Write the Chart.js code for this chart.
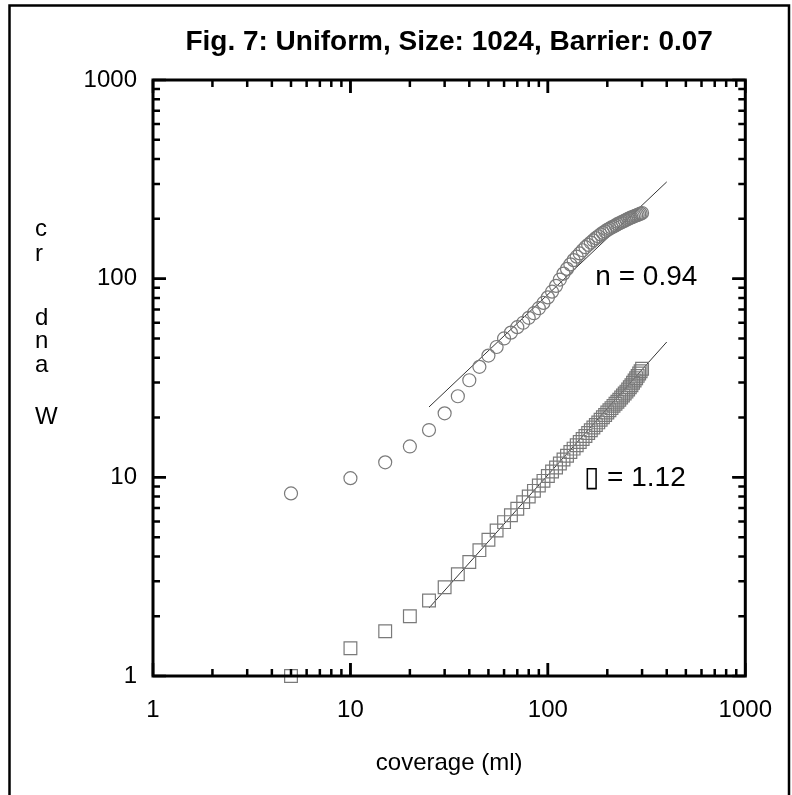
<!DOCTYPE html>
<html>
<head>
<meta charset="utf-8">
<script src="https://cdn.jsdelivr.net/npm/chart.js@4"></script>
<style>
  html, body { margin: 0; padding: 0; background: #fff; }
  #wrap { width: 792px; height: 795px; position: relative; }
</style>
</head>
<body>
<div id="wrap"><canvas id="chart" width="792" height="795"></canvas></div>
<script>
// coverage values (ml)
const coverage = [
  5, 10, 15, 20, 25, 30, 35, 40, 45, 50,
  55, 60, 65, 70, 75, 80, 85, 90, 95, 100,
  105, 110, 115, 120, 125, 130, 135, 140, 145, 150,
  155, 160, 165, 170, 175, 180, 185, 190, 195, 200,
  205, 210, 215, 220, 225, 230, 235, 240, 245, 250,
  255, 260, 265, 270, 275, 280, 285, 290, 295, 300
];

// circles (upper series)
const circleValues = [
  8.3, 9.9, 11.9, 14.3, 17.3, 21.0, 25.6, 30.8, 36.0, 41.0,
  45.3, 50.0, 53.5, 57.0, 60.0, 63.5, 67.0, 71.0, 75.5, 80.5,
  86.0, 92.0, 99.0, 106.0, 112.0, 118.0, 124.0, 129.0, 134.0, 139.0,
  144.0, 148.0, 152.0, 156.0, 160.0, 163.5, 167.0, 170.0, 173.0, 176.0,
  178.5, 181.0, 183.0, 185.5, 188.0, 190.0, 192.0, 194.0, 196.0, 198.0,
  200.0, 202.0, 203.5, 205.0, 206.5, 208.0, 209.5, 211.0, 212.5, 214.0
];

// squares (lower series)
const squareValues = [
  1.0, 1.38, 1.68, 2.0, 2.4, 2.8, 3.25, 3.75, 4.3, 4.85,
  5.4, 5.95, 6.45, 6.95, 7.5, 8.0, 8.55, 9.1, 9.6, 10.15,
  10.7, 11.2, 11.75, 12.3, 12.85, 13.4, 13.95, 14.5, 15.05, 15.6,
  16.15, 16.7, 17.25, 17.8, 18.35, 18.9, 19.5, 20.05, 20.6, 21.2,
  21.75, 22.3, 22.9, 23.45, 24.0, 24.6, 25.2, 25.8, 26.4, 27.0,
  27.7, 28.4, 29.1, 29.9, 30.7, 31.5, 32.4, 33.3, 34.2, 35.2
];

// power-law fit lines (end points)
const circleFitX = [25, 400];
const circleFitY = [22.6, 307];
const squareFitX = [25, 400];
const squareFitY = [2.2, 48];

const tickValues = [1, 10, 100, 1000];

const titleText = 'Fig. 7: Uniform, Size: 1024, Barrier: 0.07';
const xTitle = 'coverage (ml)';
const yTitleLetters = ['c', 'r', 'd', 'n', 'a', 'W'];
const yTitleBase = [236, 261, 325, 348, 372, 424];
const circleLabel = { text: 'n = 0.94', x: 174, y: 102 };
const squareLabel = { text: '\u25AF = 1.12', x: 153, y: 9.9 };

const FONT = '"Liberation Sans", Arial, sans-serif';

const toPoints = (xs, ys) => xs.map((x, i) => ({ x: x, y: ys[i] }));

// 边框、内向刻度和文字
const decorPlugin = {
  id: 'decor',
  afterDraw(chart) {
    const ctx = chart.ctx;
    const area = chart.chartArea;
    const xs = chart.scales.x;
    const ys = chart.scales.y;
    ctx.save();

    // outer frame
    ctx.strokeStyle = '#000';
    ctx.lineWidth = 2.5;
    ctx.beginPath();
    ctx.moveTo(9.5, 800);
    ctx.lineTo(9.5, 5.5);
    ctx.lineTo(789, 5.5);
    ctx.lineTo(789, 800);
    ctx.stroke();

    // plot box
    ctx.lineWidth = 3;
    ctx.strokeRect(area.left, area.top, area.right - area.left, area.bottom - area.top);

    // inward ticks on all four sides
    ctx.lineWidth = 2.5;
    [1, 10, 100].forEach(d => {
      for (let m = 1; m <= 10; m++) {
        const v = d * m;
        const len = (m === 1 || m === 10) ? 13 : 7;
        const px = xs.getPixelForValue(v);
        const py = ys.getPixelForValue(v);
        ctx.beginPath();
        ctx.moveTo(px, area.bottom); ctx.lineTo(px, area.bottom - len);
        ctx.moveTo(px, area.top); ctx.lineTo(px, area.top + len);
        ctx.moveTo(area.left, py); ctx.lineTo(area.left + len, py);
        ctx.moveTo(area.right, py); ctx.lineTo(area.right - len, py);
        ctx.stroke();
      }
    });

    ctx.fillStyle = '#000';
    // title
    ctx.font = 'bold 28px ' + FONT;
    ctx.textAlign = 'center';
    ctx.textBaseline = 'middle';
    ctx.fillText(titleText, (area.left + area.right) / 2, 42);

    // x title
    ctx.font = '24px ' + FONT;
    ctx.fillText(xTitle, (area.left + area.right) / 2, 763);

    // y title (stacked letters)
    ctx.textAlign = 'left';
    ctx.textBaseline = 'alphabetic';
    yTitleLetters.forEach((ch, i) => ctx.fillText(ch, 35, yTitleBase[i]));

    // fit labels
    ctx.font = '28px ' + FONT;
    ctx.textBaseline = 'middle';
    [circleLabel, squareLabel].forEach(l => {
      ctx.fillText(l.text, xs.getPixelForValue(l.x), ys.getPixelForValue(l.y));
    });

    ctx.restore();
  }
};

const tickOpts = {
  autoSkip: false,
  maxRotation: 0,
  color: '#000',
  font: { family: FONT, size: 24 },
  callback: v => String(v)
};

new Chart(document.getElementById('chart'), {
  type: 'scatter',
  data: {
    datasets: [
      {
        label: 'circles',
        data: toPoints(coverage, circleValues),
        pointStyle: 'circle',
        pointRadius: 6.5,
        borderColor: '#7a7a7a',
        backgroundColor: 'rgba(0,0,0,0)',
        borderWidth: 1.2,
        clip: false
      },
      {
        label: 'squares',
        data: toPoints(coverage, squareValues),
        pointStyle: 'rect',
        pointRadius: 9,
        borderColor: '#7a7a7a',
        backgroundColor: 'rgba(0,0,0,0)',
        borderWidth: 1.2,
        clip: false
      },
      {
        label: 'fit n',
        data: toPoints(circleFitX, circleFitY),
        showLine: true,
        pointRadius: 0,
        borderColor: '#333',
        borderWidth: 1
      },
      {
        label: 'fit beta',
        data: toPoints(squareFitX, squareFitY),
        showLine: true,
        pointRadius: 0,
        borderColor: '#333',
        borderWidth: 1
      }
    ]
  },
  options: {
    responsive: false,
    animation: false,
    layout: { padding: { left: 0, right: 43, top: 80, bottom: 0 } },
    plugins: {
      legend: { display: false },
      tooltip: { enabled: false },
      title: { display: false }
    },
    scales: {
      x: {
        type: 'logarithmic',
        min: 1,
        max: 1000,
        afterBuildTicks: s => { s.ticks = tickValues.map(v => ({ value: v })); },
        afterFit: s => { s.height = 119; },
        grid: { display: false, drawTicks: false },
        border: { display: false },
        ticks: Object.assign({}, tickOpts, { padding: 20 })
      },
      y: {
        type: 'logarithmic',
        min: 1,
        max: 1000,
        afterBuildTicks: s => { s.ticks = tickValues.map(v => ({ value: v })); },
        afterFit: s => { s.width = 153; },
        grid: { display: false, drawTicks: false },
        border: { display: false },
        ticks: Object.assign({}, tickOpts, { padding: 16 })
      }
    }
  },
  plugins: [decorPlugin]
});
</script>
</body>
</html>
